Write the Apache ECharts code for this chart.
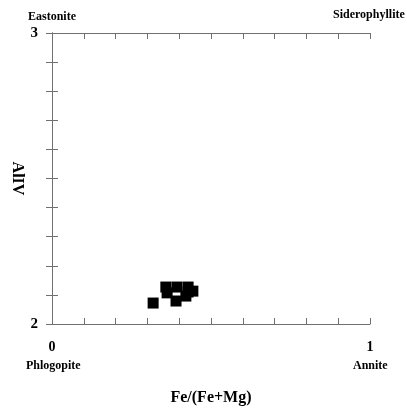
<!DOCTYPE html>
<html>
<head>
<meta charset="utf-8">
<script src="https://cdn.jsdelivr.net/npm/echarts@6/dist/echarts.min.js"></script>
<style>
  html, body { margin: 0; padding: 0; background: #fff; }
  #chart { width: 407px; height: 411px; }
</style>
</head>
<body>
<div id="chart"></div>
<script>
// Biotite compositions: Fe/(Fe+Mg) vs tetrahedral Al
const feRatio = [0.318, 0.358, 0.393, 0.428, 0.443, 0.362, 0.390, 0.421, 0.428];
const alIV    = [2.072, 2.127, 2.127, 2.127, 2.113, 2.107, 2.079, 2.096, 2.110];

// End-member labels at the corners of the diagram
const endMembers = {
  topLeft: 'Eastonite',
  topRight: 'Siderophyllite',
  bottomLeft: 'Phlogopite',
  bottomRight: 'Annite'
};
const xTickLabels = { 0: '0', 1: '1' };
const yTickLabels = { 2: '2', 3: '3' };

const serif = '"Liberation Serif", "DejaVu Serif", serif';
const frameColor = '#707070';

const points = feRatio.map((x, i) => [x, alIV[i]]);

const baseAxisLine = { show: true, lineStyle: { color: frameColor, width: 1 } };
const baseTick = { show: true, inside: true, length: 6, lineStyle: { color: frameColor, width: 1 } };

const chart = echarts.init(document.getElementById('chart'), null, { renderer: 'canvas' });

chart.setOption({
  backgroundColor: '#fff',
  animation: false,
  grid: { left: 52, right: 37, top: 33, bottom: 87, containLabel: false, outerBoundsMode: 'none' },
  xAxis: [
    {
      type: 'value', min: 0, max: 1, interval: 0.1, position: 'bottom',
      axisLine: baseAxisLine, axisTick: baseTick, splitLine: { show: false },
      axisLabel: {
        show: true, margin: 16, color: '#000',
        fontFamily: serif, fontWeight: 'bold', fontSize: 14,
        formatter: v => xTickLabels[Math.round(v * 10) / 10] || ''
      },
      name: 'Fe/(Fe+Mg)', nameLocation: 'middle', nameGap: 66, nameMoveOverlap: false,
      nameTextStyle: { fontFamily: serif, fontWeight: 'bold', fontSize: 16, color: '#000' }
    },
    {
      type: 'value', min: 0, max: 1, interval: 0.1, position: 'top',
      axisLine: baseAxisLine, axisTick: baseTick, splitLine: { show: false },
      axisLabel: { show: false }
    }
  ],
  yAxis: [
    {
      type: 'value', min: 2, max: 3, interval: 0.1, position: 'left',
      axisLine: baseAxisLine, axisTick: baseTick, splitLine: { show: false },
      axisLabel: {
        show: true, margin: 14, color: '#000', padding: [5, 0, 0, 0],
        fontFamily: serif, fontWeight: 'bold', fontSize: 15,
        formatter: v => yTickLabels[Math.round(v * 10) / 10] || ''
      },
      name: 'AlIV', nameLocation: 'middle', nameGap: 27, nameRotate: -90, nameMoveOverlap: false,
      nameTextStyle: { fontFamily: serif, fontWeight: 'bold', fontSize: 16, color: '#000' }
    },
    {
      type: 'value', min: 2, max: 3, interval: 0.1, position: 'right',
      axisLine: baseAxisLine, axisTick: baseTick, splitLine: { show: false },
      axisLabel: { show: false }
    }
  ],
  series: [
    {
      type: 'scatter',
      xAxisIndex: 0, yAxisIndex: 0,
      symbol: 'rect', symbolSize: 11,
      itemStyle: { color: '#000', opacity: 1 },
      data: points
    }
  ],
  graphic: [
    { type: 'text', left: 28, top: 11, style: { text: endMembers.topLeft, fontFamily: serif, fontWeight: 'bold', fontSize: 12, fill: '#000' } },
    { type: 'text', left: 333, top: 9, style: { text: endMembers.topRight, fontFamily: serif, fontWeight: 'bold', fontSize: 12, fill: '#000' } },
    { type: 'text', left: 26, top: 360, style: { text: endMembers.bottomLeft, fontFamily: serif, fontWeight: 'bold', fontSize: 12, fill: '#000' } },
    { type: 'text', left: 353, top: 360, style: { text: endMembers.bottomRight, fontFamily: serif, fontWeight: 'bold', fontSize: 12, fill: '#000' } }
  ]
});
</script>
</body>
</html>
